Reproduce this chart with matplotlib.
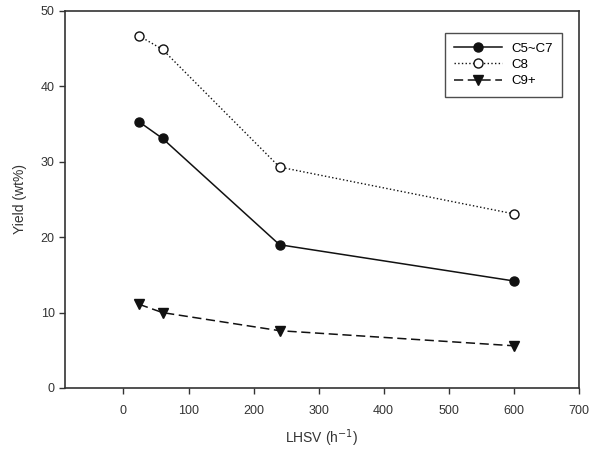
import matplotlib
matplotlib.use("Agg")
import matplotlib.pyplot as plt

plt.rcParams['font.family'] = ['Liberation Sans', 'DejaVu Sans']

lhsv = [24, 60, 240, 600]
c5_c7 = [35.3, 33.1, 19.0, 14.2]
c8 = [46.7, 44.9, 29.3, 23.1]
c9p = [11.1, 10.0, 7.6, 5.6]
xticks = [0, 100, 200, 300, 400, 500, 600, 700]
yticks = [0, 10, 20, 30, 40, 50]

fig = plt.figure(figsize=(5.93, 4.5), dpi=100)
ax = fig.add_axes([0.1096, 0.1378, 0.866, 0.8378])
col = '#111111'
ax.plot(lhsv, c5_c7, '-', color=col, lw=1.1, marker='o', ms=6.5, mfc=col, mec=col, label='C5~C7')
ax.plot(lhsv, c8, ':', color=col, lw=1.0, marker='o', ms=6.5, mfc='white', mec=col, mew=1.0, label='C8')
ax.plot(lhsv, c9p, '--', color=col, lw=1.1, dashes=(6, 3), marker='v', ms=7, mfc=col, mec=col, label='C9+')

ax.set_xlim(-90, 700)
ax.set_ylim(0, 50)
ax.set_xticks(xticks)
ax.set_yticks(yticks)
ax.tick_params(direction='out', length=4, width=1, labelsize=9, colors='#333333', labelcolor='#333333')
ax.tick_params(axis='x', pad=8)
for s in ax.spines.values():
    s.set_linewidth(1.2)
    s.set_color('#333333')
ax.set_xlabel('LHSV (h$^{-1}$)', fontsize=10, color='#333333', labelpad=8)
ax.set_ylabel('Yield (wt%)', fontsize=10, color='#333333', labelpad=10)

leg = ax.legend(loc='upper right', bbox_to_anchor=(0.98, 0.958), fontsize=9.5, frameon=True, fancybox=False,
                edgecolor='#222222', handlelength=3.6, labelspacing=0.3, borderpad=0.7, handletextpad=0.7)
leg.get_frame().set_linewidth(1.0)

fig.savefig('out.png', dpi=100)
